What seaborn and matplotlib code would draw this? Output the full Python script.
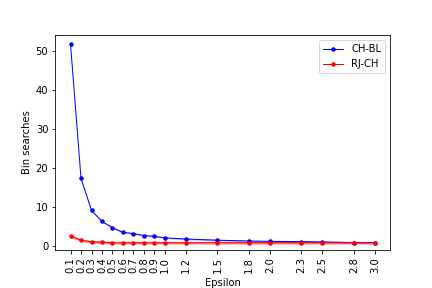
import matplotlib
matplotlib.use("Agg")
import matplotlib.pyplot as plt
import numpy as np
import pandas as pd
import seaborn as sns

# Data
epsilon = [0.1, 0.2, 0.3, 0.4, 0.5, 0.6, 0.7, 0.8, 0.9, 1.0,
           1.2, 1.5, 1.8, 2.0, 2.3, 2.5, 2.8, 3.0]
tick_labels = ["0.1", "0.2", "0.3", "0.4", "0.5", "0.6", "0.7", "0.8", "0.9", "1.0",
               "1.2", "1.5", "1.8", "2.0", "2.3", "2.5", "2.8", "3.0"]
ch_bl = [51.7, 17.4, 9.2, 6.4, 4.8, 3.6, 3.3, 2.8, 2.6, 2.2,
         1.9, 1.6, 1.4, 1.3, 1.25, 1.15, 1.0, 1.0]
rj_ch = [2.7, 1.6, 1.2, 1.1, 0.95, 0.95, 0.95, 0.95, 0.95, 0.95,
         0.95, 0.95, 0.95, 0.95, 0.95, 0.95, 0.95, 0.95]
# thin confidence bands
ch_bl_lo = [51.5, 17.2, 9.0, 6.2, 4.6, 3.4, 3.1, 2.6, 2.4, 2.0,
            1.7, 1.4, 1.2, 1.1, 1.05, 0.95, 0.8, 0.8]
ch_bl_hi = [51.9, 17.6, 9.4, 6.6, 5.0, 3.8, 3.5, 3.0, 2.8, 2.4,
            2.1, 1.8, 1.6, 1.5, 1.45, 1.35, 1.2, 1.2]
rj_ch_lo = [2.3, 1.3, 0.85, 0.75, 0.6, 0.6, 0.6, 0.6, 0.6, 0.6,
            0.6, 0.6, 0.6, 0.6, 0.6, 0.6, 0.6, 0.6]
rj_ch_hi = [3.0, 1.9, 1.5, 1.4, 1.3, 1.3, 1.3, 1.3, 1.3, 1.3,
            1.3, 1.3, 1.3, 1.3, 1.3, 1.3, 1.3, 1.3]

df = pd.DataFrame({
    "Epsilon": epsilon * 2,
    "Bin searches": ch_bl + rj_ch,
    "method": ["CH-BL"] * len(epsilon) + ["RJ-CH"] * len(epsilon),
})

fig, ax = plt.subplots(figsize=(6, 4), dpi=72)
sns.lineplot(
    data=df, x="Epsilon", y="Bin searches", hue="method",
    palette={"CH-BL": "blue", "RJ-CH": "red"},
    marker="o", markersize=4.5, markeredgewidth=0, linewidth=1,
    ax=ax,
)
ax.fill_between(epsilon, ch_bl_lo, ch_bl_hi, color="blue", alpha=0.25, linewidth=0)
ax.fill_between(epsilon, rj_ch_lo, rj_ch_hi, color="red", alpha=0.45, linewidth=0)

ax.set_xticks(epsilon)
ax.set_xticklabels(tick_labels, rotation=90)
ax.set_xlabel("Epsilon", labelpad=5)
ax.set_ylabel("Bin searches")
ax.set_ylim(-0.9, 54.0)
ax.legend(loc="upper right")
fig.subplots_adjust(left=0.128, right=0.903, top=0.878, bottom=0.132)
fig.savefig("out.png", dpi=72)
